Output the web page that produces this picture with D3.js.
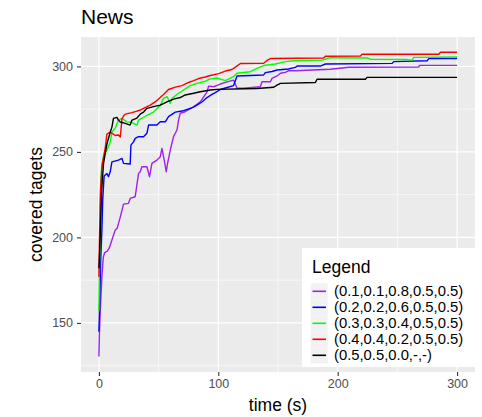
<!DOCTYPE html>
<html><head><meta charset="utf-8">
<script src="https://cdn.jsdelivr.net/npm/d3@7"></script>
<style>body{margin:0;background:#fff}svg{display:block}text{font-family:"Liberation Sans",Arial,sans-serif}</style>
</head><body><svg id="c" width="482" height="417"></svg>
<script>
const chartTitle = "News";
const xTitle = "time (s)";
const yTitle = "covered tagets";
const legendTitle = "Legend";
const seriesNames = ["(0.1,0.1,0.8,0.5,0.5)","(0.2,0.2,0.6,0.5,0.5)","(0.3,0.3,0.4,0.5,0.5)","(0.4,0.4,0.2,0.5,0.5)","(0.5,0.5,0.0,-,-)"];
const seriesColors = ["#A020F0","#0000FF","#00FF00","#FF0000","#000000"];
const xTicks = [0,100,200,300];
const xMinor = [50,150,250];
const yTicks = [150,200,250,300];
const yMinor = [125,175,225,275];

const purpleSeries = [[0,130.4],[0.5,145.6],[1.5,163],[2.5,177],[3.6,188],[4.7,191],[7,192],[8.6,193.7],[10.3,197.2],[12,200.8],[13.7,204.3],[15.3,205.4],[17.9,211.9],[20.6,219.5],[24.8,219.9],[26.2,222.8],[30.4,223.8],[33.2,237.4],[34.6,238.4],[36,241.3],[40.2,241.3],[42.4,235.5],[44.4,243.3],[48.6,245.2],[51.4,247.2],[52.8,252.1],[54.7,245.2],[56.4,238.4],[57.5,243.3],[59.8,251.1],[62.5,258.9],[65.4,262.8],[66.7,268.6],[68.1,272.6],[72.3,273.5],[79.3,276.4],[84.9,279.3],[90.5,285],[91.9,288.5],[96.1,288.1],[101.7,289.7],[107.3,291],[112.8,292],[115.7,287.2],[121.2,287.2],[135.2,288.1],[136.6,291],[143.6,291],[145,293],[149.2,294.4],[152,296],[156.2,296.5],[158.9,297.5],[164.5,297.5],[193.9,298.3],[209.2,299.5],[267.9,299.6],[268.5,300.6],[300,300.6]];
const blueSeries = [[0,144.8],[0.7,163.3],[1.5,186.7],[2.5,204.3],[3.2,221.8],[3.9,230.6],[4.4,235.9],[6.7,237.4],[8,235.5],[9.5,238.4],[10.9,244.2],[16.4,245.2],[19.3,246.2],[20.6,243.3],[26.2,242.9],[26.8,254],[29,255.9],[30.4,257.9],[33.2,258.9],[37.4,258.9],[40.2,260.9],[41.6,265.7],[48.6,265.7],[51.4,267.6],[55.6,267.6],[58.3,270.6],[64,273.3],[69.6,273.9],[75.1,275.1],[79.3,276.2],[82.1,277.4],[86.3,279.2],[90.5,281.8],[94.7,283.6],[97.5,284.7],[101.7,286.5],[105.9,287.4],[112.8,288.8],[115.7,294.4],[138,295],[139.4,296.4],[145,297],[149.2,297.9],[158.9,298.5],[164.5,299.4],[166,300.2],[185.5,300.2],[189.7,301.4],[245.6,301.8],[247,302.8],[274.9,303.3],[276.3,304.6],[300,304.6]];
const greenSeries = [[0,156.9],[0.3,175],[0.7,192.6],[1.3,221.8],[1.7,233.5],[2.5,242.9],[3.9,247],[6.7,251.1],[9.5,255.8],[10.9,261.6],[13.7,264],[16.4,268.6],[19.3,269.6],[23.5,267.6],[27.7,267.2],[31.9,265.7],[33.2,268.6],[40.2,271.3],[45.8,273.3],[51.4,277.1],[54.1,281.3],[57,282.3],[59.8,278.4],[61.2,281.3],[66.7,284.3],[70.9,286.2],[76.5,288.8],[82.1,290.1],[87.7,291],[93.3,292.7],[98.9,293.2],[105.9,291.7],[112.8,294.1],[115.7,296],[126.8,296.9],[132.4,298.9],[138,300.5],[147.8,301.4],[156.2,302.8],[163.1,303.3],[186.9,303.7],[193.9,305.1],[224.6,304.9],[227.4,304.2],[258.2,304],[262.4,303.7],[263.7,305.3],[300,305.5]];
const redSeries = [[0,176.8],[0.3,192.6],[0.8,210.1],[1.3,227.7],[2.5,240.6],[3.9,247.2],[5.3,252.3],[6.7,260.4],[9.5,261.6],[13.7,259.6],[16.4,259.9],[17.9,258.7],[19.3,269.2],[20.6,271],[22,272.1],[27.7,273],[31.9,273.9],[34.6,274.5],[37.4,275.5],[43,277.4],[48.6,280],[54.1,283.6],[58.3,286.5],[64,287.9],[69.6,288.8],[75.1,290.6],[79.3,291.7],[83.5,292.9],[89.1,293.8],[93.3,294.7],[100.3,295.8],[105.9,297.3],[111.5,298.2],[114.3,299.6],[118.5,301.7],[138,301.8],[140.8,303.5],[143.6,304.6],[188.3,304.9],[189.7,305.9],[219,306.1],[220.4,307.1],[284.7,307.1],[286.1,308.3],[300,308.3]];
const blackSeries = [[0,182],[0.7,192.6],[1.5,210.1],[2.3,227.7],[3.9,243.5],[6.7,254.6],[9.5,261.6],[10.9,264.5],[12.2,269.6],[15.1,270.2],[16.4,268.6],[17.9,267.5],[22,266.7],[26.2,265.7],[27.7,268.6],[31.9,269.8],[34.6,272.1],[37.4,273.3],[40.2,275.5],[45.8,276.5],[51.4,277.4],[57,279.3],[62.5,280.9],[68.1,281.8],[72.3,283.3],[79.3,284.3],[84.9,285.2],[93.3,286.2],[98.9,286.6],[132.4,287.1],[146.4,287.8],[149.2,289.1],[152,290.1],[181.3,290.6],[182.7,292.5],[223.2,292.5],[224.6,293.6],[300,293.6]];
const allSeries = [purpleSeries, blueSeries, greenSeries, redSeries, blackSeries];

const svg = d3.select("#c");
const panel = {l:81, r:475, t:37, b:372};
const x = d3.scaleLinear().domain([-15,315]).range([panel.l,panel.r]);
const y = d3.scaleLinear().domain([121.3,317.2]).range([panel.b,panel.t]);

svg.append("rect").attr("x",panel.l).attr("y",panel.t).attr("width",panel.r-panel.l).attr("height",panel.b-panel.t).attr("fill","#EBEBEB");
const g = svg.append("g");
g.selectAll(".xm").data(xMinor).enter().append("line").attr("x1",d=>x(d)).attr("x2",d=>x(d)).attr("y1",panel.t).attr("y2",panel.b).attr("stroke","#fff").attr("stroke-width",0.6);
g.selectAll(".ym").data(yMinor).enter().append("line").attr("y1",d=>y(d)).attr("y2",d=>y(d)).attr("x1",panel.l).attr("x2",panel.r).attr("stroke","#fff").attr("stroke-width",0.6);
g.selectAll(".xM").data(xTicks).enter().append("line").attr("x1",d=>x(d)).attr("x2",d=>x(d)).attr("y1",panel.t).attr("y2",panel.b).attr("stroke","#fff").attr("stroke-width",1.2);
g.selectAll(".yM").data(yTicks).enter().append("line").attr("y1",d=>y(d)).attr("y2",d=>y(d)).attr("x1",panel.l).attr("x2",panel.r).attr("stroke","#fff").attr("stroke-width",1.2);

const line = d3.line().x(d=>x(d[0])).y(d=>y(d[1]));
const clip = svg.append("clipPath").attr("id","pc").append("rect").attr("x",panel.l).attr("y",panel.t).attr("width",panel.r-panel.l).attr("height",panel.b-panel.t);
svg.append("g").attr("clip-path","url(#pc)").selectAll("path").data(allSeries).enter().append("path")
  .attr("d",line).attr("fill","none").attr("stroke",(d,i)=>seriesColors[i]).attr("stroke-width",1.4).attr("stroke-linejoin","round");

// axes
const xAxis = d3.axisBottom(x).tickValues(xTicks).tickSize(4).tickPadding(3);
const ax = svg.append("g").attr("transform",`translate(0,${panel.b})`).call(xAxis);
const yAxis = d3.axisLeft(y).tickValues(yTicks).tickSize(4).tickPadding(4);
const ay = svg.append("g").attr("transform",`translate(${panel.l},0)`).call(yAxis);
[ax,ay].forEach(a=>{a.select(".domain").remove();a.selectAll(".tick line").attr("stroke","#333").attr("stroke-width",1.1);a.selectAll(".tick text").attr("fill","#4D4D4D").style("font-size","12.5px").style("font-family","Liberation Sans, Arial, sans-serif");});

svg.append("text").attr("x",panel.l).attr("y",24).text(chartTitle).style("font-size","21px").attr("fill","#000");
svg.append("text").attr("x",(panel.l+panel.r)/2).attr("y",411).attr("text-anchor","middle").text(xTitle).style("font-size","17.5px");
svg.append("text").attr("transform",`translate(42,${(panel.t+panel.b)/2}) rotate(-90)`).attr("text-anchor","middle").text(yTitle).style("font-size","17.5px");

// legend
const lg = svg.append("g");
lg.append("rect").attr("x",302).attr("y",248).attr("width",200).attr("height",119).attr("fill","#fff");
lg.append("text").attr("x",312).attr("y",272.5).text(legendTitle).style("font-size","17.5px");
seriesNames.forEach((n,i)=>{
  const yy = 283.3 + i*16;
  lg.append("rect").attr("x",310.7).attr("y",yy).attr("width",17).attr("height",16).attr("fill","#F2F2F2");
  lg.append("line").attr("x1",312.5).attr("x2",326).attr("y1",yy+8).attr("y2",yy+8).attr("stroke",seriesColors[i]).attr("stroke-width",1.6);
  lg.append("text").attr("x",334).attr("y",yy+13).text(n).style("font-size","14.8px");
});
</script></body></html>
